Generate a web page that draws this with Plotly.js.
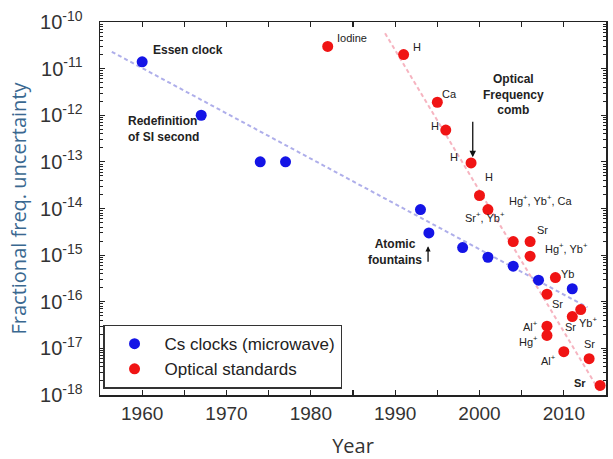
<!DOCTYPE html>
<html>
<head>
<meta charset="utf-8">
<script src="https://cdn.plot.ly/plotly-3.0.1.min.js"></script>
<style>html,body{margin:0;padding:0;background:#fff;}#chart{width:613px;height:459px;}</style>
</head>
<body>
<div id="chart"></div>
<script>
// ---- data ----
var csYear = [1960, 1967, 1974, 1977, 1993, 1994, 1998, 2001, 2004, 2007, 2011];
var csUnc  = [1.4e-11, 1e-12, 1e-13, 1e-13, 9.5e-15, 3e-15, 1.45e-15, 9e-16, 5.8e-16, 2.9e-16, 1.9e-16];

var optYear = [1982, 1991, 1995, 1996, 1999, 2000, 2001, 2004, 2006, 2006, 2009, 2008, 2012, 2011, 2008, 2008, 2010, 2013, 2014.3];
var optUnc  = [3e-11, 2e-11, 1.9e-12, 4.8e-13, 9.5e-14, 1.9e-14, 9.5e-15, 1.95e-15, 1.95e-15, 9.5e-16, 3.3e-16, 1.45e-16, 6.8e-17, 4.8e-17, 3e-17, 1.9e-17, 8.5e-18, 6e-18, 1.6e-18];

var csTrendYear = [1956.4, 2012.8];
var csTrendUnc  = [2.3e-11, 7.6e-17];
var optTrendYear = [1988.8, 2014.3];
var optTrendUnc  = [5.75e-11, 1.15e-18];

var yTickVals = [1e-10, 1e-11, 1e-12, 1e-13, 1e-14, 1e-15, 1e-16, 1e-17, 1e-18];
var yTickText = ["10<sup>-10</sup>", "10<sup>-11</sup>", "10<sup>-12</sup>", "10<sup>-13</sup>", "10<sup>-14</sup>", "10<sup>-15</sup>", "10<sup>-16</sup>", "10<sup>-17</sup>", "10<sup>-18</sup>"];
var xTickVals = [1960, 1970, 1980, 1990, 2000, 2010];
var xTickText = ["1960", "1970", "1980", "1990", "2000", "2010"];

var seriesNames = ["Cs clocks (microwave)", "Optical standards"];

// labels: [text, year, log10(value), bold]
var pointLabels = [
  ["Essen clock", 1965.4, -10.60, true],
  ["Iodine", 1984.9, -10.34, false],
  ["H", 1992.6, -10.53, false],
  ["Ca", 1996.5, -11.55, false],
  ["H", 1994.7, -12.23, false],
  ["H", 1997.0, -12.89, false],
  ["H", 2001.1, -13.32, false],
  ["Hg<sup>+</sup>, Yb<sup>+</sup>, Ca", 2007.2, -13.82, false],
  ["Sr<sup>+</sup>, Yb<sup>+</sup>", 2000.6, -14.18, false],
  ["Sr", 2007.5, -14.46, false],
  ["Hg<sup>+</sup>, Yb<sup>+</sup>", 2010.3, -14.85, false],
  ["Yb", 2010.4, -15.41, false],
  ["Sr", 2009.2, -16.04, false],
  ["Yb<sup>+</sup>", 2012.9, -16.43, false],
  ["Sr", 2010.8, -16.55, false],
  ["Al<sup>+</sup>", 2006.0, -16.52, false],
  ["Hg<sup>+</sup>", 2005.8, -16.84, false],
  ["Al<sup>+</sup>", 2008.2, -17.25, false],
  ["Sr", 2013.1, -16.90, false],
  ["Sr", 2011.9, -17.74, true],
  ["Optical<br>Frequency<br>comb", 2004.0, -11.55, true],
  ["Atomic<br>fountains", 1990.0, -14.94, true]
];

var traces = [
  {x: csTrendYear, y: csTrendUnc, mode: 'lines', showlegend: false, hoverinfo: 'skip',
   line: {color: 'rgba(120,120,220,0.6)', width: 2, dash: '4px,3px'}},
  {x: optTrendYear, y: optTrendUnc, mode: 'lines', showlegend: false, hoverinfo: 'skip',
   line: {color: 'rgba(240,130,150,0.6)', width: 2, dash: '4px,3px'}},
  {x: csYear, y: csUnc, mode: 'markers', name: seriesNames[0],
   marker: {color: '#1414e6', size: 11}},
  {x: optYear, y: optUnc, mode: 'markers', name: seriesNames[1],
   marker: {color: '#f01414', size: 11}}
];

var annFamily = 'Liberation Sans, Arial, sans-serif';
var annotations = pointLabels.map(function (p) {
  var big = p[0].indexOf('<br>') >= 0 || p[0] === 'Essen clock';
  return {
    x: p[1], y: p[2], xref: 'x', yref: 'y', showarrow: false,
    text: p[3] ? '<b>' + p[0] + '</b>' : p[0],
    font: {family: annFamily, size: big ? 12 : 11, color: '#222'},
    align: 'center'
  };
});
annotations.push({x: 1958.1, y: -12.29, xref: 'x', yref: 'y', xanchor: 'left', showarrow: false, align: 'left',
  text: '<b>Redefinition<br>of SI second</b>', font: {family: annFamily, size: 12, color: '#222'}});
annotations.push({x: 1999.2, y: -12.90, xref: 'x', yref: 'y', ax: 0, ay: -37, text: '', showarrow: true,
  arrowhead: 2, arrowsize: 1, arrowwidth: 1.3, arrowcolor: '#111'});
annotations.push({x: 1993.9, y: -14.81, xref: 'x', yref: 'y', ax: 0, ay: 17, text: '', showarrow: true,
  arrowhead: 2, arrowsize: 0.8, arrowwidth: 1.3, arrowcolor: '#111'});

var axisCommon = {
  showline: true, linecolor: '#222', linewidth: 1.5, mirror: 'allticks',
  ticks: 'inside', ticklen: 5, tickwidth: 1.2, tickcolor: '#222',
  showgrid: false, zeroline: false
};

var layout = {
  width: 613, height: 459,
  margin: {l: 100, r: 7, t: 22, b: 64},
  paper_bgcolor: '#fff', plot_bgcolor: '#fff',
  showlegend: true,
  legend: {x: 0.006, y: 0.017, xanchor: 'left', yanchor: 'bottom',
    bgcolor: '#fff', bordercolor: '#333', borderwidth: 1.5,
    font: {family: annFamily, size: 17, color: '#222'},
    itemwidth: 50, tracegroupgap: 0},
  xaxis: Object.assign({}, axisCommon, {
    range: [1955, 2015], tickmode: 'array', tickvals: xTickVals, ticktext: xTickText,
    minor: {dtick: 5, tick0: 1955, ticks: 'inside', ticklen: 5, tickwidth: 1.2, tickcolor: '#222', showgrid: false},
    tickfont: {family: annFamily, size: 19, color: '#333'},
    ticklabelstandoff: 1,
    title: {text: 'Year', font: {family: 'Open Sans, sans-serif', size: 20, color: '#333'}, standoff: 16}
  }),
  yaxis: Object.assign({}, axisCommon, {
    type: 'log', range: [-18, -10], tickmode: 'array', tickvals: yTickVals, ticktext: yTickText,
    minor: {tickmode: 'linear', dtick: 'D1', ticks: 'inside', ticklen: 3, tickwidth: 1, tickcolor: '#222', showgrid: false},
    tickfont: {family: annFamily, size: 20, color: '#333'},
    ticklabelstandoff: 12,
    title: {text: 'Fractional freq. uncertainty', font: {family: 'Open Sans, sans-serif', size: 20, color: '#3a6890'}, standoff: 8}
  }),
  annotations: annotations
};

Plotly.newPlot('chart', traces, layout, {displayModeBar: false, staticPlot: true});
</script>
</body>
</html>
